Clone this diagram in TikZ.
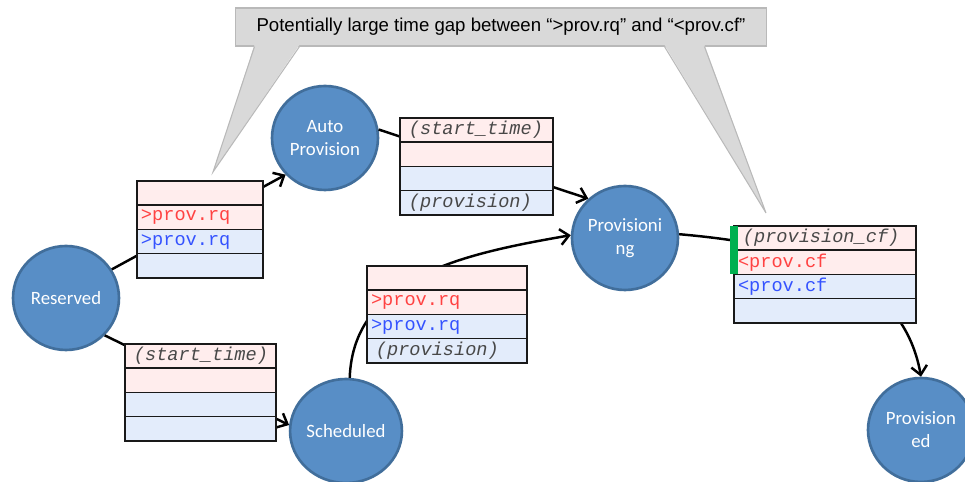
\documentclass[tikz,border=0pt]{standalone}
\usepackage{fontspec}
\usepackage{xcolor}
\usepackage{tikz}
\usetikzlibrary{arrows.meta,positioning,shapes.geometric}
\newfontfamily\statefont{Carlito}
\newfontfamily\notefont{Liberation Sans}
\newfontfamily\slotfont{Liberation Mono}
\definecolor{statefill}{RGB}{88,142,198}
\definecolor{stateline}{RGB}{65,110,155}
\definecolor{reqfill}{RGB}{255,237,237}
\definecolor{cffill}{RGB}{227,236,251}
\definecolor{reqtext}{RGB}{255,66,66}
\definecolor{cftext}{RGB}{52,82,255}
\definecolor{gatetext}{RGB}{72,72,72}
\definecolor{notefill}{RGB}{217,217,217}
\definecolor{noteline}{RGB}{185,185,185}
\definecolor{cfmark}{RGB}{0,176,80}
\tikzset{
	state/.style={ellipse, draw=stateline, fill=statefill, line width=1.5pt,
		minimum width=2.12cm, minimum height=2.08cm, inner sep=0pt,
		align=center, text=white, font=\statefont\fontsize{10.7}{13}\selectfont},
	slot/.style={draw=black!90, line width=0.85pt, outer sep=0pt,
		inner xsep=0.08cm, inner ysep=0pt, minimum height=0.485cm,
		text width=#1, align=left, font=\slotfont\fontsize{10.6}{12}\selectfont},
	req/.style={fill=reqfill, text=reqtext},
	cf/.style={fill=cffill, text=cftext},
	gate/.style={text=gatetext, font=\slotfont\itshape\fontsize{10.6}{12}\selectfont,
		execute at begin node=\hspace*{2.8pt}},
	flow/.style={-{Straight Barb[length=5pt, width=9pt]}, line width=1.4pt}
}

\begin{document}
\begin{tikzpicture}[x=0.02cm, y=-0.02cm]
	\useasboundingbox (0,0) rectangle (965,482);
	
	%% -- States
	\node[state] (reserved) at (66,298) {Reserved};
	\node[state] (auto) at (325,138) {Auto\\Provision};
	\node[state] (sched) at (346,431) {Scheduled};
	\node[state] (provisioning) at (625,238) {Provisioni\\ng};
	\node[state] (provisioned) at (921,430) {Provision\\ed};
	
	%% -- Transitions (drawn under the message tables)
	\draw[flow] (reserved.32) -- (auto.223);
	\draw[flow] (auto.9) -- (provisioning.133);
	\draw[flow] (reserved.-44) -- (sched.174);
	\draw[flow] (sched.86) to[out=88, in=190] (provisioning.177);
	\draw[flow] (provisioning.4) to[out=-5, in=100] (provisioned.north);
	
	%% -- Reserved -> Auto Provision
	\node[slot=2.36cm, req, anchor=north west] (resauto1) at (137,181) {};
	\node[slot=2.36cm, req, below=0pt of resauto1] (resauto2) {>prov.rq};
	\node[slot=2.36cm, cf, below=0pt of resauto2] (resauto3) {>prov.rq};
	\node[slot=2.36cm, cf, below=0pt of resauto3] (resauto4) {};
	
	%% -- Auto Provision -> Provisioning
	\node[slot=2.9cm, req, gate, anchor=north west] (autoprov1) at (400,118) {(start\_time)};
	\node[slot=2.9cm, req, below=0pt of autoprov1] (autoprov2) {};
	\node[slot=2.9cm, cf, below=0pt of autoprov2] (autoprov3) {};
	\node[slot=2.9cm, cf, gate, below=0pt of autoprov3] (autoprov4) {(provision)};
	
	%% -- Scheduled -> Provisioning
	\node[slot=3.04cm, req, anchor=north west] (schedprov1) at (367,266) {};
	\node[slot=3.04cm, req, below=0pt of schedprov1] (schedprov2) {>prov.rq};
	\node[slot=3.04cm, cf, below=0pt of schedprov2] (schedprov3) {>prov.rq};
	\node[slot=3.04cm, cf, gate, below=0pt of schedprov3] (schedprov4) {(provision)};
	
	%% -- Provisioning -> Provisioned
	\node[slot=3.48cm, req, gate, anchor=north west] (provdone1) at (734,226) {(provision\_cf)};
	\node[slot=3.48cm, req, below=0pt of provdone1] (provdone2) {<prov.cf};
	\node[slot=3.48cm, cf, below=0pt of provdone2] (provdone3) {<prov.cf};
	\node[slot=3.48cm, cf, below=0pt of provdone3] (provdone4) {};
	\fill[cfmark] ([xshift=-2.3pt]provdone1.north west) rectangle ([xshift=2.3pt]provdone2.south west);
	
	%% -- Reserved -> Scheduled
	\node[slot=2.86cm, req, gate, anchor=north west] (ressched1) at (125,344) {(start\_time)};
	\node[slot=2.86cm, req, below=0pt of ressched1] (ressched2) {};
	\node[slot=2.86cm, cf, below=0pt of ressched2] (ressched3) {};
	\node[slot=2.86cm, cf, below=0pt of ressched3] (ressched4) {};
	
	%% -- Callout on the request/confirm gap
	\node[draw=noteline, fill=notefill, line width=0.6pt,
	minimum width=10.64cm, minimum height=0.76cm, inner sep=0pt,
	font=\notefont\fontsize{10.6}{12}\selectfont] (note) at (501,27)
	{Potentially large time gap between “>prov.rq” and “<prov.cf”};
	\coordinate (tipL) at (213,172);
	\coordinate (tipR) at (766,213);
	\fill[notefill] ([xshift=0.4cm, yshift=1pt]note.south west) -- (tipL)
	-- ([xshift=1.3cm, yshift=1pt]note.south west) -- cycle;
	\draw[noteline, line width=0.6pt] ([xshift=0.4cm]note.south west) -- (tipL)
	-- ([xshift=1.3cm]note.south west);
	\fill[notefill] ([xshift=8.6cm, yshift=1pt]note.south west) -- (tipR)
	-- ([xshift=9.4cm, yshift=1pt]note.south west) -- cycle;
	\draw[noteline, line width=0.6pt] ([xshift=8.6cm]note.south west) -- (tipR)
	-- ([xshift=9.4cm]note.south west);
	
\end{tikzpicture}
\end{document}
